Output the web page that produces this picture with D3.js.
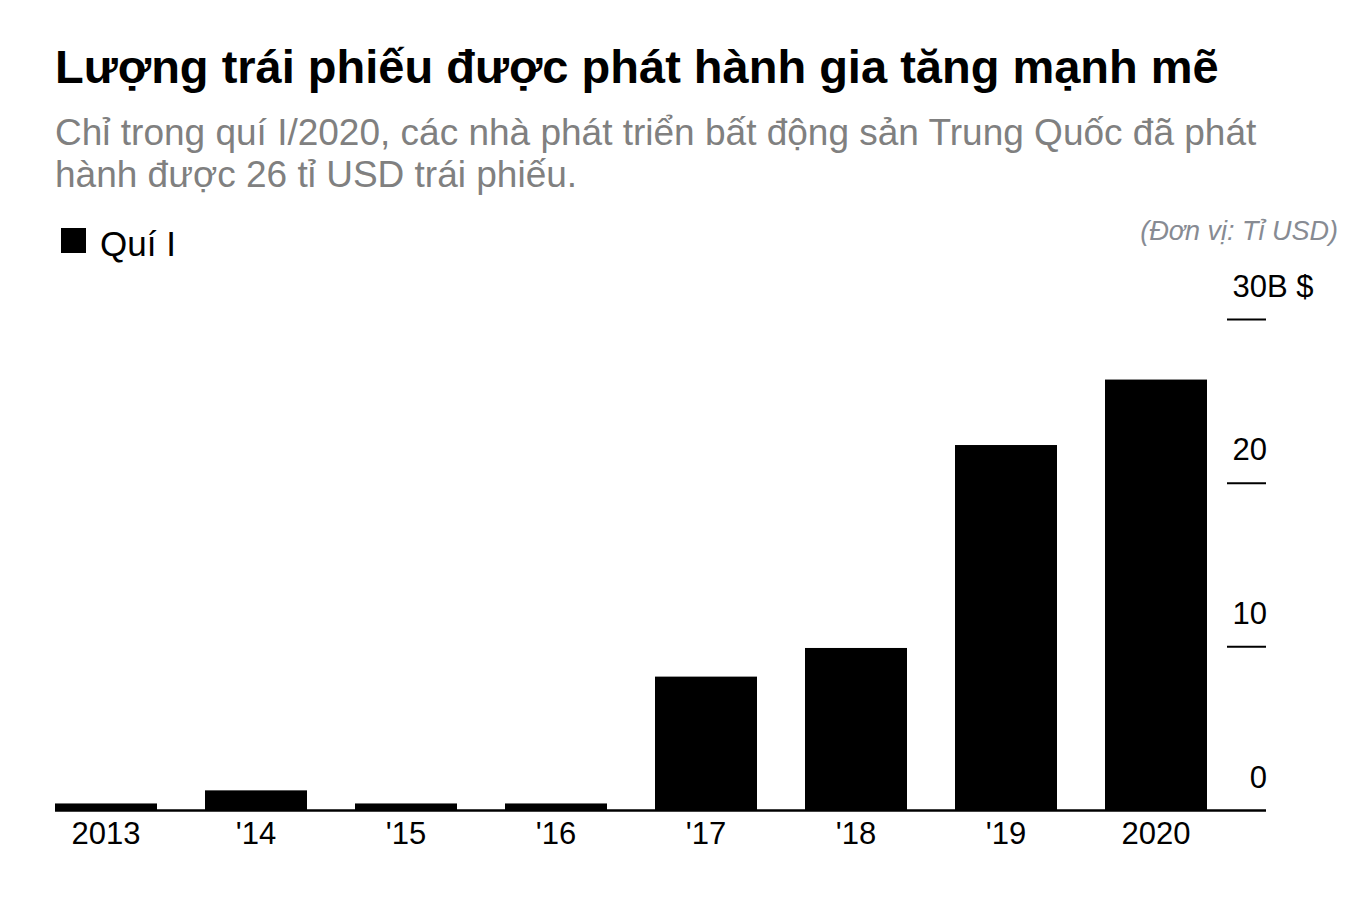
<!DOCTYPE html>
<html>
<head>
<meta charset="utf-8">
<script src="https://cdn.jsdelivr.net/npm/d3@7"></script>
<style>
  body { margin: 0; background: #fff; }
  svg { display: block; font-family: "Liberation Sans", Arial, sans-serif; }
</style>
</head>
<body>
<svg width="1353" height="897"></svg>
<script>
  const years = ['2013', "'14", "'15", "'16", "'17", "'18", "'19", '2020'];
  const q1Values = [0.4, 1.2, 0.4, 0.4, 8.15, 9.9, 22.3, 26.3];
  const yTicks = [0, 10, 20, 30];

  const title = 'Lượng trái phiếu được phát hành gia tăng mạnh mẽ';
  const subtitle = ['Chỉ trong quí I/2020, các nhà phát triển bất động sản Trung Quốc đã phát',
    'hành được 26 tỉ USD trái phiếu.'];
  const unitLabel = '(Đơn vị: Tỉ USD)';
  const legendLabel = 'Quí I';

  const svg = d3.select('svg');
  const data = years.map((y, i) => ({ year: y, value: q1Values[i] }));
  const font = '"Liberation Sans", Arial, sans-serif';

  const xScale = d3.scaleBand()
    .domain(years)
    .range([55, 1207])
    .paddingInner(0.32)
    .paddingOuter(0);

  const yScale = d3.scaleLinear()
    .domain([0, 30])
    .range([810, 319]);

  // header
  svg.append('text')
    .attr('x', 55).attr('y', 83)
    .attr('font-size', 47).attr('font-weight', 'bold')
    .attr('fill', '#000')
    .text(title);

  svg.selectAll('.sub').data(subtitle)
    .enter().append('text')
      .attr('class', 'sub')
      .attr('x', 55)
      .attr('y', (d, i) => 145 + i * 42)
      .attr('font-size', 37)
      .attr('fill', '#808080')
      .text(d => d);

  // legend
  svg.append('rect')
    .attr('x', 61).attr('y', 228).attr('width', 25).attr('height', 25)
    .attr('fill', '#000');
  svg.append('text')
    .attr('x', 100).attr('y', 256)
    .attr('font-size', 35)
    .attr('fill', '#000')
    .text(legendLabel);

  svg.append('text')
    .attr('x', 1338).attr('y', 240)
    .attr('text-anchor', 'end')
    .attr('font-size', 27).attr('font-style', 'italic')
    .attr('fill', '#878b93')
    .text(unitLabel);

  // bars
  svg.append('g').selectAll('rect').data(data)
    .enter().append('rect')
      .attr('x', d => xScale(d.year))
      .attr('y', d => yScale(d.value))
      .attr('width', xScale.bandwidth())
      .attr('height', d => yScale(0) - yScale(d.value))
      .attr('fill', '#000');

  // y axis on the right, ticks as short dashes with labels above
  const yAxis = d3.axisLeft(yScale)
    .tickValues(yTicks)
    .tickSize(39)
    .tickFormat(d => d);

  const yAxisG = svg.append('g')
    .attr('transform', 'translate(1266,0)')
    .call(yAxis);
  yAxisG.select('.domain').remove();
  yAxisG.selectAll('.tick line')
    .attr('stroke', '#000').attr('stroke-width', 2);
  yAxisG.selectAll('.tick').filter(d => d === 0).select('line').remove();
  yAxisG.selectAll('.tick text')
    .attr('x', 1).attr('dy', 0).attr('y', -23)
    .attr('text-anchor', 'end')
    .attr('font-size', 31)
    .attr('font-family', font)
    .attr('fill', '#000');
  yAxisG.selectAll('.tick').filter(d => d === 30)
    .append('text')
      .attr('x', 1).attr('y', -23)
      .attr('text-anchor', 'start')
      .attr('font-size', 31)
      .attr('font-family', font)
      .attr('fill', '#000')
      .text('B $');

  // x axis
  const xAxis = d3.axisBottom(xScale).tickSize(0).tickPadding(0);
  const xAxisG = svg.append('g')
    .attr('transform', `translate(0, ${yScale(0)})`)
    .call(xAxis);
  xAxisG.select('.domain').remove();
  xAxisG.selectAll('.tick text')
    .attr('dy', 0).attr('y', 34)
    .attr('font-size', 31)
    .attr('font-family', font)
    .attr('fill', '#000');

  svg.append('line')
    .attr('x1', 55).attr('x2', 1266)
    .attr('y1', yScale(0) + 0.5).attr('y2', yScale(0) + 0.5)
    .attr('stroke', '#000').attr('stroke-width', 2.5);
</script>
</body>
</html>
